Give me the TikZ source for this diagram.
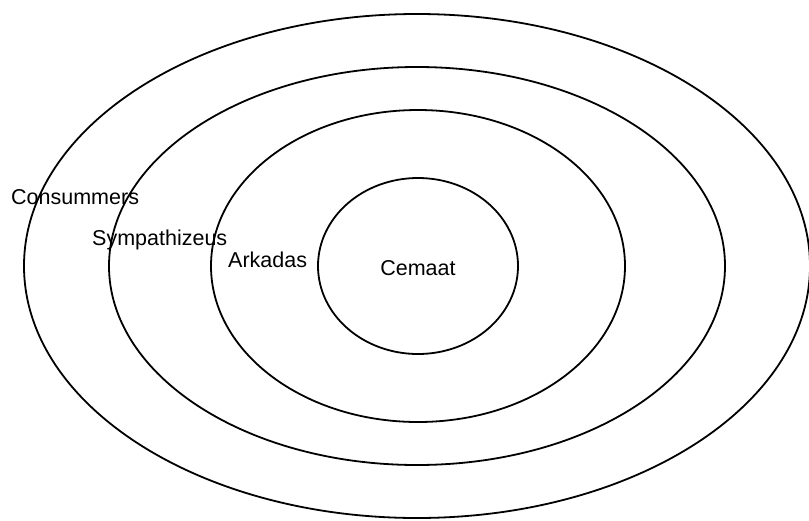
\documentclass[tikz,border=0pt]{standalone}
\usepackage{fontspec}
\setmainfont{Liberation Sans}
\begin{document}
\begin{tikzpicture}[x=1pt,y=-1pt,
  ring/.style={draw=black,line width=1.8pt},
  txt/.style={font=\fontsize{21.5}{25}\selectfont,inner sep=0pt},
  lbl/.style={txt,anchor=west}]
\useasboundingbox[fill=white] (0,0) rectangle (809,520);
\coordinate (c) at (417,266);
\draw[ring] (c) ellipse [x radius=393, y radius=252];
\draw[ring] (c) ellipse [x radius=308, y radius=199];
\draw[ring] (418,266) ellipse [x radius=207, y radius=156];
\draw[ring] (418,266) ellipse [x radius=100, y radius=88];
\node[lbl] (cons) at (11,197) {Consummers};
\node[lbl] (symp) at (92,240) {Sympathizeus};
\node[lbl] (ark) at (228,260) {Arkadas};
\node[txt] (cem) at (418,268) {Cemaat};
\end{tikzpicture}
\end{document}
